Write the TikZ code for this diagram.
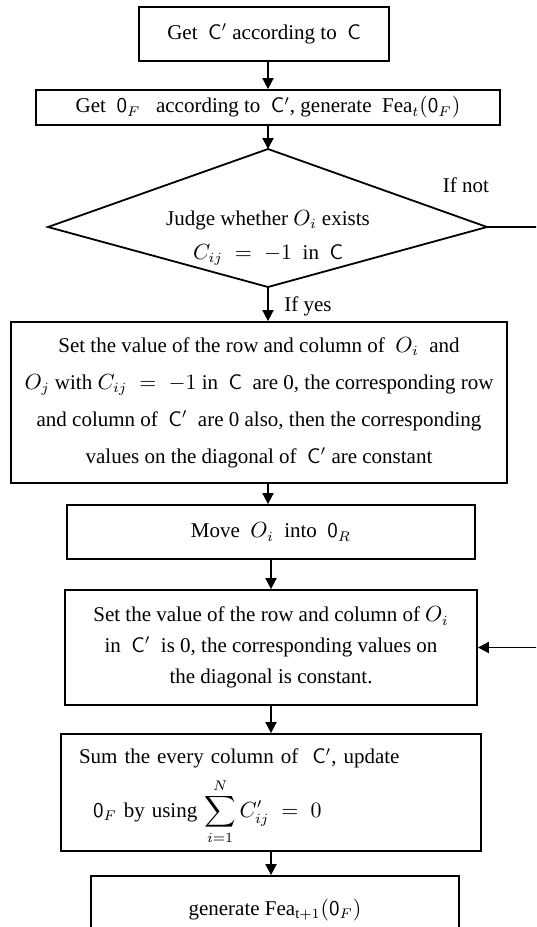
\documentclass[tikz,border=0pt]{standalone}
\usepackage{amsmath}
\usepackage{fontspec}
\setmainfont{Liberation Serif}
\usetikzlibrary{arrows.meta}

\begin{document}
\begin{tikzpicture}[x=0.5pt, y=-0.5pt, every node/.style={font=\fontsize{10.5}{15.5}\selectfont}, >={Triangle[length=5.5pt, width=5.5pt]},
	box/.style={draw, line width=0.9pt, inner sep=0pt, align=center},
	flow/.style={->, line width=0.9pt}]
	\useasboundingbox (0,0) rectangle (536,927);
	\clip (0,0) rectangle (536,927);
	\node[box, minimum width=125pt, minimum height=27pt] (getc) at (264,34) {Get \ $\mathsf{C}'$ according to \ $\mathsf{C}$};
	\node[box, minimum width=232pt, minimum height=17.5pt] (getof) at (268,107.5) {Get \ $\mathsf{0}_F$ \ \ according to \ $\mathsf{C}'$, generate \ $\mathrm{Fea}_t(\mathsf{0}_F)$};
	\coordinate (jtop) at (268,149);
	\coordinate (jleft) at (48,227);
	\coordinate (jright) at (487,227);
	\coordinate (jbot) at (268,287);
	\draw[line width=0.9pt] (jtop) -- (jright) -- (jbot) -- (jleft) -- cycle;
	\node[align=center, font=\fontsize{10.5}{17}\selectfont] (judge) at (268,238) {Judge whether $O_i$ exists\\ $C_{ij} \;=\; \mathbf{-}1$ \ in \ $\mathsf{C}$};
	\node[box, minimum width=248pt, minimum height=80.5pt, font=\fontsize{10.5}{18.5}\selectfont] (setval) at (259,402.5) {Set the value of the row and column of \ $O_i$ \ and\\ $O_j$ with $C_{ij} \;=\; \mathbf{-}1$ in \ $\mathsf{C}$ \ are 0, the corresponding row\\ and column of \ $\mathsf{C}'$ \ are 0 also, then the corresponding\\ values on the diagonal of \ $\mathsf{C}'$ are constant};
	\node[box, minimum width=204pt, minimum height=27pt] (move) at (271,532) {Move \ $O_i$ \ into \ $\mathsf{0}_R$};
	\node[box, minimum width=206pt, minimum height=57.5pt] (setrow) at (271,647.5) {Set the value of the row and column of $O_i$\\ in \ $\mathsf{C}'$ \ is 0, the corresponding values on\\ the diagonal is constant.};
	\node[box, minimum width=210pt, minimum height=58.5pt, text width=192pt, align=left, inner xsep=9pt, inner ysep=0pt] (sumcol) at (271,792.5) {\rule{0pt}{12pt}Sum the every column of \ $\mathsf{C}'$, update\\[4pt] \hspace*{7pt}$\mathsf{0}_F$ by using $\displaystyle\sum_{i=1}^{N} C'_{ij} \;=\; 0$};
	\node[box, minimum width=184pt, minimum height=34pt] (gennext) at (275,910) {generate $\mathrm{Fea}_{\mathrm{t}+1}(\mathsf{0}_F)$};
	\node (ifnot) at (466,185) {If not};
	\node (ifyes) at (308,306) {If yes};
	\coordinate (back) at (548,227);
	\draw[flow] (getc.south -| getof.north) -- (getof.north);
	\draw[flow] (getof) -- (jtop);
	\draw[flow] (jbot) -- (jbot |- setval.north);
	\draw[flow] (jbot |- setval.south) -- (move.north -| jbot);
	\draw[flow] (move) -- (setrow);
	\draw[flow] (setrow) -- (sumcol);
	\draw[flow] (sumcol) -- (sumcol |- gennext.north);
	\draw[flow] (jright) -- (back) |- (setrow.east);
\end{tikzpicture}
\end{document}
